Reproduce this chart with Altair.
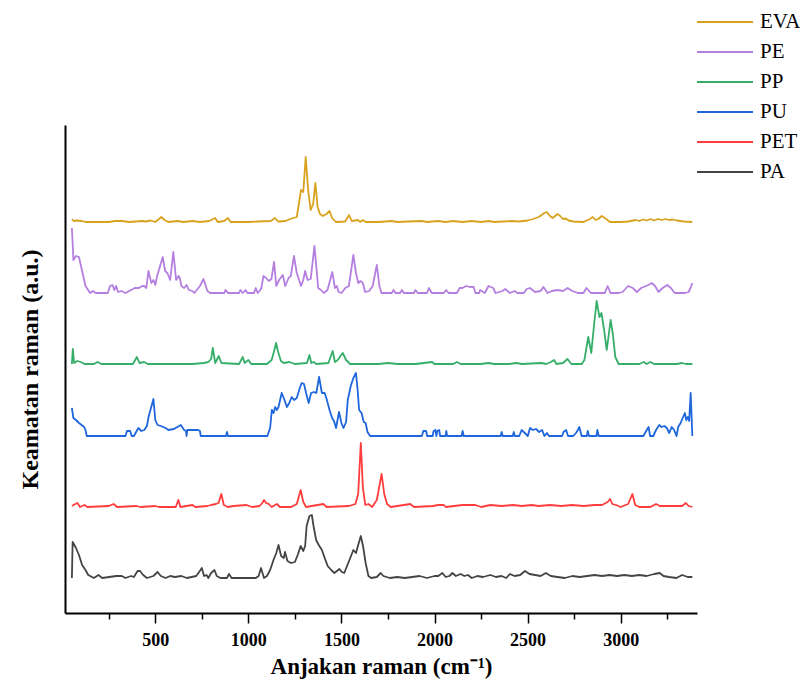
import altair as alt
import pandas as pd

SERIES = ["EVA", "PE", "PP", "PU", "PET", "PA"]
COLORS = ["#D9A21E", "#B57FE0", "#34AE68", "#1F66DD", "#FF3D3D", "#444444"]
OFFSETS = [391, 320, 249, 177, 106, 35]

EVA_X = [52, 62, 80, 106, 125, 250, 285, 320, 360, 430, 450, 475, 500, 520, 532, 550, 570, 620, 650, 700, 740, 790, 822, 835, 870, 890, 905, 1000, 1050, 1120, 1143, 1160, 1200, 1224, 1260, 1283, 1295, 1308, 1322, 1335, 1348, 1360, 1372, 1385, 1400, 1420, 1436, 1450, 1470, 1520, 1541, 1555, 1590, 1600, 1615, 1630, 1700, 1770, 1800, 1860, 1930, 1960, 2020, 2060, 2100, 2150, 2200, 2250, 2290, 2320, 2370, 2420, 2450, 2500, 2530, 2560, 2590, 2603, 2620, 2635, 2660, 2675, 2690, 2705, 2720, 2745, 2800, 2835, 2850, 2865, 2880, 2898, 2915, 2943, 3000, 3040, 3080, 3100, 3120, 3140, 3160, 3180, 3200, 3220, 3240, 3260, 3280, 3300, 3340, 3385]
EVA_Y = [3, 1, 1.5, 1, 0, 0, 1, 1, 0, 1, 0.5, 1.5, 0, 3, 5, 2, 0, 1, 0, 1, 0, 1, 4, 0, 1, 4, 0, 0, 0.5, 1, 4, 0.5, 1, 3, 5, 32, 30, 65, 30, 12, 18, 39, 15, 8, 6, 8, 11, 4, 0, 0.5, 7, 1, 2, 0, 2, 0, 0, 1, 0, 0.5, 1, 0, 1, 0, 1, 0, 1, 0, 1, 0, 0.5, 1, 0.5, 1.5, 3, 5, 9, 10, 6, 4, 8, 6, 3, 3.5, 1.5, 0.5, 0, 3, 5, 2, 3, 6, 4, 0, 0, 0.5, 2, 1, 2.5, 1.5, 3, 1.5, 3, 2, 3, 2, 2.5, 1.5, 0.5, 0]

PE_X = [52, 56, 60, 74, 90, 107, 125, 150, 165, 180, 245, 257, 270, 280, 290, 300, 318, 340, 370, 390, 412, 430, 440, 452, 463, 479, 490, 500, 510, 540, 553, 565, 580, 597, 612, 625, 632, 640, 655, 668, 680, 700, 710, 740, 759, 780, 795, 870, 878, 890, 950, 957, 970, 985, 995, 1030, 1040, 1050, 1060, 1070, 1081, 1095, 1110, 1124, 1138, 1150, 1165, 1185, 1198, 1216, 1228, 1245, 1260, 1283, 1295, 1305, 1318, 1335, 1355, 1368, 1375, 1390, 1405, 1425, 1451, 1465, 1475, 1485, 1500, 1521, 1540, 1564, 1578, 1590, 1602, 1615, 1627, 1649, 1668, 1690, 1704, 1715, 1770, 1780, 1790, 1815, 1825, 1835, 1890, 1897, 1910, 1960, 1970, 1985, 2050, 2063, 2075, 2120, 2135, 2150, 2170, 2190, 2210, 2220, 2240, 2245, 2270, 2290, 2315, 2328, 2365, 2380, 2405, 2430, 2445, 2480, 2495, 2512, 2540, 2570, 2585, 2607, 2630, 2660, 2690, 2715, 2740, 2770, 2800, 2816, 2840, 2915, 2930, 2945, 2990, 3010, 3040, 3065, 3087, 3110, 3149, 3167, 3185, 3203, 3225, 3250, 3270, 3290, 3345, 3365, 3375, 3385]
PE_Y = [65, 50, 33, 37, 36, 22, 7, 0, 2, 0, 0, 7, 8, 3, 7, 1, 2, 0, 3, 5, 5, 7, 7, 5, 22, 10, 13, 8, 17, 36, 22, 20, 13, 41, 13, 17, 15, 7, 5, 8, 3, 2, 0, 7, 14, 2, 0, 0, 3, 0, 0, 3, 0, 3, 0, 0, 5, 0, 2, 5, 17, 15, 12, 14, 31, 7, 13, 18, 7, 15, 17, 37, 20, 7, 13, 22, 13, 14, 47, 20, 5, 3, 0, 3, 21, 5, 7, 1, 0, 5, 7, 38, 20, 10, 12, 10, 1, 2, 7, 28, 7, 0, 0, 3, 0, 0, 3, 0, 0, 3, 0, 0, 5, 0, 0, 3, 0, 0, 5, 5, 7, 6, 6, 0, 0, 3, 0, 7, 5, 0, 2, 4, 0, 2, 0, 0, 4, 5, 1, 2, 6, 0, 2, 3, 2, 5, 2, 0, 0, 5, 0, 0, 7, 0, 0, 1, 7, 5, 1, 5, 8, 10, 7, 1, 5, 8, 5, 0, 0, 1, 5, 10]

PP_X = [52, 57, 64, 80, 100, 120, 170, 190, 210, 380, 401, 415, 440, 460, 700, 760, 785, 800, 809, 822, 841, 855, 950, 970, 980, 1000, 1015, 1100, 1125, 1140, 1149, 1160, 1175, 1190, 1220, 1250, 1315, 1328, 1338, 1350, 1365, 1430, 1453, 1465, 1480, 1507, 1525, 1547, 1700, 1750, 1800, 1900, 1987, 2000, 2100, 2120, 2140, 2245, 2290, 2320, 2400, 2440, 2470, 2574, 2600, 2625, 2642, 2655, 2690, 2714, 2735, 2791, 2805, 2826, 2842, 2858, 2871, 2886, 2897, 2911, 2925, 2935, 2946, 2958, 2971, 2989, 3100, 3124, 3140, 3160, 3180, 3300, 3330, 3350, 3385]
PP_Y = [0, 15, 1, 3, 2, 0, 0, 2, 0, 0, 7, 1, 2, 0, 0, 1, 2, 5, 16, 1, 8, 1, 0, 7, 1, 4, 0, 0, 4, 14, 21, 12, 3, 1, 2, 0, 1, 9, 1, 2, 0, 1, 13, 2, 4, 11, 4, 0, 0, 1, 0, 0, 2, 0, 0, 2, 0, 0, 1, 0, 0, 1, 0, 1, 0, 2, 4, 0, 1, 5, 0, 0, 4, 27, 11, 41, 63, 47, 51, 34, 14, 28, 44, 30, 7, 0, 0, 2, 0, 2, 0, 0, 1, 0, 0]

PU_X = [52, 60, 74, 90, 118, 125, 132, 340, 348, 365, 373, 385, 409, 425, 441, 455, 465, 490, 500, 512, 530, 555, 570, 600, 637, 655, 665, 668, 672, 700, 730, 740, 744, 880, 885, 890, 1102, 1117, 1126, 1135, 1144, 1153, 1162, 1179, 1192, 1207, 1220, 1233, 1246, 1260, 1278, 1287, 1299, 1310, 1324, 1337, 1352, 1365, 1380, 1395, 1410, 1422, 1436, 1450, 1460, 1471, 1487, 1500, 1511, 1525, 1534, 1550, 1564, 1578, 1587, 1595, 1608, 1620, 1630, 1640, 1654, 1932, 1940, 1955, 1960, 1990, 1995, 2005, 2010, 2015, 2025, 2030, 2060, 2063, 2068, 2146, 2151, 2157, 2355, 2361, 2366, 2420, 2426, 2431, 2455, 2468, 2485, 2501, 2513, 2528, 2545, 2562, 2578, 2590, 2604, 2615, 2685, 2693, 2707, 2717, 2745, 2760, 2770, 2778, 2790, 2818, 2823, 2830, 2870, 2875, 2882, 3122, 3140, 3150, 3158, 3175, 3190, 3207, 3220, 3235, 3248, 3261, 3274, 3287, 3300, 3309, 3322, 3333, 3345, 3352, 3361, 3368, 3376, 3385]
PU_Y = [28, 18, 16, 13, 9, 6, 0, 0, 5, 5, 0, 0, 8, 5, 6, 10, 20, 37, 16, 11, 10, 8, 6, 7, 11, 6, 5, 0, 6, 6, 6, 5, 0, 0, 4, 0, 0, 8, 26, 23, 29, 26, 29, 43, 37, 29, 33, 39, 36, 38, 49, 53, 52, 43, 33, 43, 44, 43, 59, 43, 43, 36, 26, 18, 15, 8, 24, 13, 8, 14, 36, 50, 58, 63, 46, 26, 23, 14, 13, 4, 0, 0, 5, 5, 0, 0, 5, 6, 0, 5, 6, 0, 0, 5, 0, 0, 5, 0, 0, 4, 0, 0, 4, 0, 0, 6, 3, 0, 8, 6, 7, 4, 6, 0, 3, 0, 0, 4, 6, 0, 0, 3, 6, 9, 0, 0, 5, 0, 0, 6, 0, 0, 6, 9, 0, 0, 6, 11, 9, 10, 8, 3, 9, 6, 0, 9, 13, 18, 23, 16, 19, 15, 43, 0]

PET_X = [52, 70, 82, 95, 120, 135, 250, 276, 295, 400, 420, 500, 520, 610, 624, 635, 700, 715, 780, 800, 825, 840, 855, 868, 890, 920, 990, 1020, 1060, 1075, 1084, 1095, 1110, 1125, 1153, 1170, 1230, 1260, 1281, 1295, 1310, 1340, 1403, 1420, 1540, 1575, 1590, 1604, 1615, 1628, 1645, 1665, 1690, 1716, 1730, 1745, 1765, 1800, 1870, 1890, 1990, 2020, 2050, 2060, 2150, 2220, 2250, 2300, 2360, 2420, 2470, 2520, 2560, 2620, 2680, 2740, 2800, 2860, 2900, 2930, 2943, 2955, 2975, 3000, 3040, 3063, 3078, 3100, 3160, 3190, 3210, 3250, 3300, 3330, 3350, 3365, 3385]
PET_Y = [1, 3, 4, 0, 2, 0, 1, 3, 0, 1, 0, 1, 0, 0, 7, 0, 2, 0, 1, 2, 3, 4, 13, 2, 0, 1, 2, 0, 1, 4, 7, 4, 3, 0, 3, 0, 0, 3, 17, 5, 0, 1, 3, 0, 1, 3, 13, 64, 20, 2, 3, 0, 7, 33, 13, 3, 0, 1, 3, 0, 1, 2, 2, 0, 2, 2, 0, 2, 1, 2, 1, 2, 1, 2, 1, 2, 1, 2, 2, 5, 8, 3, 2, 0, 3, 13, 2, 0, 0, 3, 1, 1, 1, 1, 4, 1, 0]

PA_X = [52, 56, 74, 90, 107, 125, 140, 150, 170, 195, 215, 290, 320, 340, 370, 385, 405, 418, 435, 455, 490, 512, 530, 555, 580, 605, 640, 670, 720, 743, 750, 762, 775, 785, 800, 818, 830, 850, 885, 896, 910, 1040, 1055, 1068, 1084, 1100, 1117, 1135, 1150, 1162, 1176, 1190, 1197, 1210, 1229, 1250, 1265, 1281, 1295, 1305, 1313, 1328, 1341, 1350, 1364, 1378, 1395, 1410, 1426, 1445, 1462, 1489, 1502, 1515, 1530, 1543, 1564, 1578, 1590, 1604, 1616, 1630, 1645, 1660, 1690, 1711, 1725, 1760, 1800, 1840, 1880, 1920, 1960, 2000, 2020, 2042, 2060, 2080, 2096, 2115, 2140, 2160, 2180, 2200, 2230, 2260, 2300, 2330, 2360, 2385, 2405, 2430, 2460, 2486, 2510, 2540, 2570, 2598, 2625, 2660, 2700, 2740, 2780, 2820, 2860, 2900, 2940, 2980, 3020, 3060, 3100, 3140, 3180, 3210, 3230, 3260, 3300, 3330, 3360, 3385]
PA_Y = [0, 36, 30, 23, 13, 8, 3, 2, 0, 3, 0, 2, 2, 0, 2, 1, 7, 7, 3, 0, 2, 6, 2, 0, 2, 1, 2, 0, 2, 8, 10, 2, 3, 0, 5, 8, 2, 0, 0, 4, 0, 0, 2, 10, 0, 2, 8, 18, 25, 33, 22, 20, 26, 17, 15, 16, 23, 32, 27, 32, 52, 62, 63, 52, 38, 33, 28, 20, 12, 8, 5, 9, 6, 5, 12, 18, 28, 25, 33, 42, 32, 15, 2, 0, 1, 5, 2, 0, 1, 0, 1, 2, 0, 2, 2, 5, 1, 2, 5, 2, 4, 2, 3, 0, 2, 1, 3, 1, 2, 0, 4, 2, 3, 7, 4, 3, 2, 5, 2, 1, 0, 2, 1, 2, 3, 2, 3, 2, 3, 2, 3, 2, 4, 5, 2, 1, 0, 3, 1, 1]

X_TICKS = [500, 1000, 1500, 2000, 2500, 3000]
X_MINOR = [250, 750, 1250, 1750, 2250, 2750, 3250]

raw = {
    "EVA": (EVA_X, EVA_Y), "PE": (PE_X, PE_Y), "PP": (PP_X, PP_Y),
    "PU": (PU_X, PU_Y), "PET": (PET_X, PET_Y), "PA": (PA_X, PA_Y),
}
rows = []
for name, off in zip(SERIES, OFFSETS):
    xs, ys = raw[name]
    for i, (xv, yv) in enumerate(zip(xs, ys)):
        rows.append({"series": name, "wn": xv, "val": yv + off, "idx": i})
df = pd.DataFrame(rows)

FONT = "Liberation Serif"
xscale = alt.Scale(domain=[15, 3410], nice=False, zero=False)
yscale = alt.Scale(domain=[0, 488], nice=False, zero=False)

lines = alt.Chart(df).mark_line(strokeWidth=1.8, strokeJoin="round").encode(
    x=alt.X("wn:Q", scale=xscale, axis=alt.Axis(
        values=X_TICKS, format="d", title="Anjakan raman (cm\u207b\u00b9)", grid=False,
        tickSize=10, tickWidth=1.5, tickColor="black", domainColor="black", domainWidth=2,
        labelFont=FONT, labelFontSize=18, labelFontWeight="bold", labelColor="black",
        labelPadding=8, titleFont=FONT, titleFontSize=23, titleFontWeight="bold",
        titleColor="black", titlePadding=6, labelFlush=False)),
    y=alt.Y("val:Q", scale=yscale, axis=alt.Axis(
        ticks=False, labels=False, grid=False, domainColor="black", domainWidth=2,
        title="Keamatan raman (a.u.)", titleFont=FONT, titleFontSize=24,
        titleFontWeight="bold", titleColor="black", titlePadding=23)),
    color=alt.Color("series:N", scale=alt.Scale(domain=SERIES, range=COLORS),
        legend=alt.Legend(orient="none", legendX=645, legendY=-118, title=None,
            symbolType="M-2,0H2", symbolSize=784, symbolStrokeWidth=2,
            labelFont=FONT, labelFontSize=21, labelColor="black",
            rowPadding=5, labelOffset=20, padding=0)),
    order="idx:Q",
)

minor_df = pd.DataFrame({"wn": X_MINOR})
minor = alt.Chart(minor_df).mark_point(opacity=0).encode(
    x=alt.X("wn:Q", scale=xscale, axis=alt.Axis(
        values=X_MINOR, orient="bottom", labels=False, domain=False, grid=False,
        title=None, tickSize=6, tickWidth=1.5, tickColor="black")),
)

chart = alt.layer(lines, minor).resolve_axis(x="independent").properties(
    width=632, height=488,
    autosize=alt.AutoSizeParams(type="none"),
    padding={"left": 57, "top": 117, "right": 103, "bottom": 68},
).configure_view(stroke=None)

chart.save("out.html", embed_options={"renderer": "svg", "actions": False})
